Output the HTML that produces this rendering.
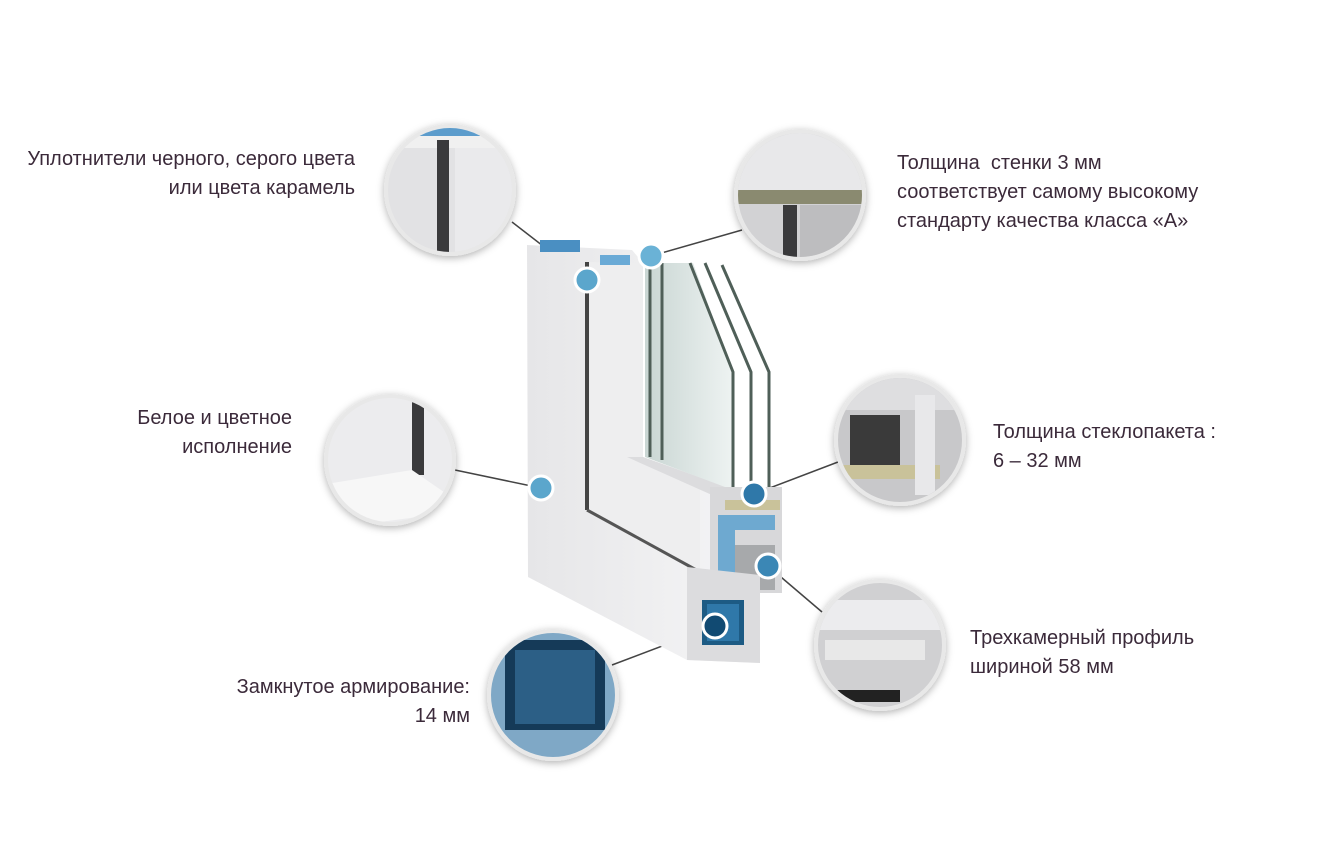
<!DOCTYPE html>
<html><head><meta charset="utf-8">
<style>
html,body{margin:0;padding:0;background:#fff;}
body{width:1321px;height:865px;position:relative;overflow:hidden;font-family:"Liberation Sans Narrow","Liberation Sans",sans-serif;color:#3b2a3a;}
.t{position:absolute;font-size:20px;line-height:29px;white-space:nowrap;}
.r{text-align:right;}
</style></head><body>
<svg width="1321" height="865" style="position:absolute;left:0;top:0">
<defs>
<linearGradient id="fr" x1="0" x2="1"><stop offset="0" stop-color="#e6e6e8"/><stop offset="1" stop-color="#f6f6f7"/></linearGradient>
<linearGradient id="gl" x1="0" x2="1"><stop offset="0" stop-color="#c9d6d3"/><stop offset="1" stop-color="#eef3f2"/></linearGradient>
<filter id="sh" x="-20%" y="-20%" width="140%" height="140%"><feDropShadow dx="0" dy="2" stdDeviation="4" flood-color="#000" flood-opacity="0.3"/></filter>
<clipPath id="c1"><circle cx="450" cy="190" r="62"/></clipPath>
<clipPath id="c2"><circle cx="800" cy="195" r="62"/></clipPath>
<clipPath id="c3"><circle cx="390" cy="460" r="62"/></clipPath>
<clipPath id="c4"><circle cx="900" cy="440" r="62"/></clipPath>
<clipPath id="c5"><circle cx="880" cy="645" r="62"/></clipPath>
<clipPath id="c6"><circle cx="553" cy="695" r="62"/></clipPath>
</defs>
<g stroke="#444" stroke-width="1.5">
<line x1="512" y1="222" x2="587" y2="280"/>
<line x1="742" y1="230" x2="651" y2="256"/>
<line x1="455" y1="470" x2="541" y2="488"/>
<line x1="838" y1="462" x2="754" y2="494"/>
<line x1="822" y1="612" x2="768" y2="566"/>
<line x1="612" y1="665" x2="715" y2="626"/>
</g>
<path d="M527,245 L632,250 L643,263 L643,457 L727,487 L760,663 L687,660 L528,577 Z" fill="url(#fr)"/>
<path d="M587,262 L643,263 L643,457 L700,480 L700,573 L587,510 Z" fill="#eeeeef"/>
<path d="M627,457 L643,457 L727,487 L712,495 Z" fill="#dcdcde"/>
<line x1="587" y1="262" x2="587" y2="510" stroke="#444" stroke-width="4"/>
<line x1="587" y1="510" x2="700" y2="572" stroke="#555" stroke-width="3"/>
<path d="M645,263 L693,263 L733,372 L733,490 L645,457 Z" fill="url(#gl)"/>
<g fill="none" stroke="#4f5f58" stroke-width="3">
<path d="M690,263 L733,372 L733,492"/>
<path d="M705,263 L751,372 L751,492"/>
<path d="M722,265 L769,372 L769,492"/>
<path d="M650,263 L650,457"/><path d="M662,263 L662,460"/>
</g>
<rect x="540" y="240" width="40" height="12" fill="#4a8fc2"/>
<rect x="600" y="255" width="30" height="10" fill="#6aaad6"/>
<path d="M710,487 L782,487 L782,593 L710,593 Z" fill="#d8d8da"/>
<path d="M718,515 L775,515 L775,530 L735,530 L735,590 L718,590 Z" fill="#6ea9d0"/>
<rect x="725" y="500" width="55" height="10" fill="#c9c29a"/>
<path d="M735,545 L775,545 L775,590 L735,590Z" fill="#a7a9ab"/>
<path d="M687,567 L760,575 L760,663 L687,660 Z" fill="#dcdcde"/>
<rect x="702" y="600" width="42" height="45" fill="#1d5b84"/>
<rect x="707" y="604" width="32" height="37" fill="#2f78a9"/>
<g stroke="#fff" stroke-width="3" fill="#5ba6cc">
<circle cx="587" cy="280" r="12"/>
<circle cx="651" cy="256" r="12" fill="#6ab2d6"/>
<circle cx="541" cy="488" r="12"/>
<circle cx="754" cy="494" r="12" fill="#2f78a9"/>
<circle cx="768" cy="566" r="12" fill="#3b87b5"/>
<circle cx="715" cy="626" r="12" fill="#114a72"/>
</g>
<g filter="url(#sh)" stroke="#e8e8e8" stroke-width="4">
<circle cx="450" cy="190" r="64" fill="#e2e2e4"/>
<circle cx="800" cy="195" r="64" fill="#d2d2d4"/>
<circle cx="390" cy="460" r="64" fill="#ececee"/>
<circle cx="900" cy="440" r="64" fill="#c8c8ca"/>
<circle cx="880" cy="645" r="64" fill="#d0d0d2"/>
<circle cx="553" cy="695" r="64" fill="#7fa8c6"/>
</g>
<g clip-path="url(#c1)">
<rect x="380" y="120" width="140" height="28" fill="#f0f0f0"/>
<rect x="400" y="126" width="80" height="10" fill="#5c9ccc"/>
<rect x="437" y="140" width="12" height="120" fill="#3a3a3c"/>
<rect x="455" y="148" width="70" height="110" fill="#eaeaec"/>
</g>
<g clip-path="url(#c2)">
<rect x="730" y="130" width="140" height="60" fill="#e8e8ea"/>
<rect x="735" y="190" width="130" height="14" fill="#8a8a70"/>
<rect x="783" y="205" width="14" height="60" fill="#3a3a3c"/>
<rect x="800" y="205" width="70" height="60" fill="#bdbdbf"/>
</g>
<g clip-path="url(#c3)">
<rect x="412" y="400" width="12" height="75" fill="#3a3a3c"/>
<path d="M320,485 L412,470 L470,510 L320,530Z" fill="#f7f7f7"/>
</g>
<g clip-path="url(#c4)">
<rect x="835" y="375" width="130" height="35" fill="#dedee0"/>
<rect x="850" y="415" width="50" height="50" fill="#3a3a3a"/>
<rect x="840" y="465" width="100" height="14" fill="#c9c29a"/>
<rect x="915" y="395" width="20" height="100" fill="#e8e8ea"/>
</g>
<g clip-path="url(#c5)">
<rect x="815" y="600" width="130" height="30" fill="#ececee"/>
<rect x="825" y="640" width="100" height="20" fill="#e8e8e8"/>
<rect x="820" y="690" width="80" height="12" fill="#222"/>
</g>
<g clip-path="url(#c6)">
<rect x="505" y="640" width="100" height="90" fill="#153a58"/>
<rect x="515" y="650" width="80" height="74" fill="#2c5f86"/>
</g>
</svg>
<div class="t r" style="right:966px;top:145px">Уплотнители черного, серого цвета<br>или цвета карамель</div>
<div class="t" style="left:897px;top:149px">Толщина&nbsp; стенки 3 мм<br>соответствует самому высокому<br>стандарту качества класса «А»</div>
<div class="t r" style="right:1029px;top:404px">Белое и цветное<br>исполнение</div>
<div class="t" style="left:993px;top:418px">Толщина стеклопакета :<br>6 – 32 мм</div>
<div class="t" style="left:970px;top:624px">Трехкамерный профиль<br>шириной 58 мм</div>
<div class="t r" style="right:851px;top:673px">Замкнутое армирование:<br>14 мм</div>
</body></html>
